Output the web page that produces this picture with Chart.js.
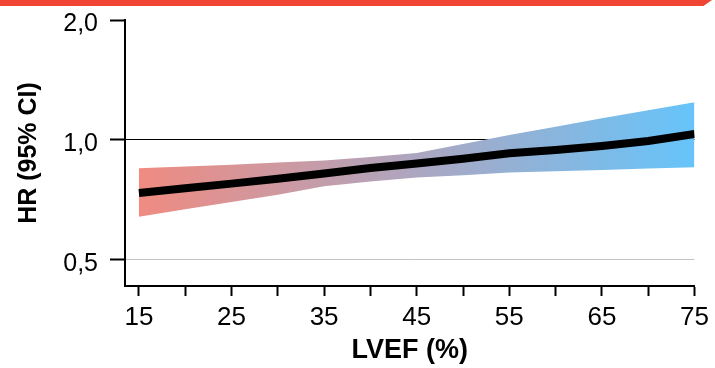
<!DOCTYPE html>
<html>
<head>
<meta charset="utf-8">
<script src="https://cdn.jsdelivr.net/npm/chart.js@4"></script>
<style>
  html, body { margin: 0; padding: 0; background: #fff; }
  #wrap { position: relative; width: 715px; height: 368px; }
  #banner { position: absolute; left: 0; top: 0; width: 712px; height: 6px; background: #f04434;
            clip-path: polygon(0 0, 100% 0, 98.8% 100%, 0 100%); }
</style>
</head>
<body>
<div id="wrap">
  <canvas id="hrChart" width="715" height="368"></canvas>
  <div id="banner"></div>
</div>
<script>
// LVEF (%) positions
let lvef = [15, 20, 25, 30, 35, 40, 45, 50, 55, 60, 65, 70, 75]
// hazard ratio and 95% CI
let hr      = [0.736, 0.756, 0.777, 0.799, 0.824, 0.850, 0.873, 0.897, 0.926, 0.944, 0.966, 0.994, 1.035]
let ciUpper = [0.849, 0.858, 0.866, 0.878, 0.888, 0.906, 0.928, 0.977, 1.029, 1.080, 1.133, 1.187, 1.243]
let ciLower = [0.642, 0.670, 0.699, 0.729, 0.765, 0.787, 0.805, 0.815, 0.828, 0.835, 0.841, 0.848, 0.854]

let xTicks = [15, 20, 25, 30, 35, 40, 45, 50, 55, 60, 65, 70, 75]
let xLabelled = [15, 25, 35, 45, 55, 65, 75]
let yTicks = [0.5, 1.0, 2.0]
let yLabels = ["0,5", "1,0", "2,0"]

function toPoints(values){
  return lvef.map(function(x, i){
    return { x: x, y: values[i] }
  })
}

function bandFill(context){
  let chart = context.chart
  let area = chart.chartArea
  if (!area) return "rgba(0,0,0,0)"
  let grad = chart.ctx.createLinearGradient(chart.scales.x.getPixelForValue(15), 0, chart.scales.x.getPixelForValue(75), 0)
  grad.addColorStop(0, "rgb(240,139,129)")
  grad.addColorStop(0.5, "rgb(172,166,192)")
  grad.addColorStop(1, "rgb(102,196,250)")
  return grad
}

let fontFamily = "'Liberation Sans', Arial, sans-serif"

new Chart(document.querySelector("#hrChart"), {
  type: "line",
  data: {
    datasets: [
      {
        data: toPoints(hr),
        borderColor: "#000",
        borderWidth: 8,
        pointRadius: 0,
        fill: false,
        order: 0
      },
      {
        data: toPoints(ciUpper),
        borderWidth: 0,
        borderColor: "rgba(0,0,0,0)",
        backgroundColor: bandFill,
        pointRadius: 0,
        fill: "+1",
        order: 1
      },
      {
        data: toPoints(ciLower),
        borderWidth: 0,
        borderColor: "rgba(0,0,0,0)",
        pointRadius: 0,
        fill: false,
        order: 2
      }
    ]
  },
  options: {
    responsive: false,
    animation: false,
    layout: { padding: { top: 20, right: 17, bottom: 0, left: 0 } },
    plugins: { legend: { display: false }, tooltip: { enabled: false } },
    scales: {
      x: {
        type: "linear",
        min: 13.5,
        max: 75,
        afterBuildTicks: function(scale){
          scale.ticks = xTicks.map(function(v){ return { value: v } })
        },
        afterFit: function(scale){ scale.height = 82 },
        border: { display: true, color: "#000", width: 2 },
        grid: { drawOnChartArea: false, tickLength: 10, tickColor: "#000", tickWidth: 2 },
        ticks: {
          color: "#000",
          padding: 6,
          maxRotation: 0,
          autoSkip: false,
          font: { family: fontFamily, size: 26 },
          callback: function(v){ return xLabelled.indexOf(v) >= 0 ? String(v) : "" }
        },
        title: {
          display: true,
          text: "LVEF (%)",
          color: "#000",
          padding: { top: 0, bottom: 1 },
          font: { family: fontFamily, size: 27, weight: "bold" }
        }
      },
      y: {
        type: "logarithmic",
        min: 0.43,
        max: 2.0,
        afterBuildTicks: function(scale){
          scale.ticks = yTicks.map(function(v){ return { value: v } })
        },
        afterFit: function(scale){
          scale.width = 125
          scale.paddingTop = 10
          scale.paddingBottom = 0
        },
        border: { display: true, color: "#000", width: 2 },
        grid: {
          color: function(ctx){
            let v = ctx.tick ? ctx.tick.value : null
            if (v === 1.0) return "#000"
            if (v === 0.5) return "#c4c4c4"
            return "rgba(0,0,0,0)"
          },
          lineWidth: 1,
          tickLength: 15,
          tickColor: "#000",
          tickWidth: 2
        },
        ticks: {
          color: "#000",
          padding: 12,
          labelOffset: 4,
          autoSkip: false,
          font: { family: fontFamily, size: 25 },
          callback: function(v){
            let i = yTicks.indexOf(v)
            return i >= 0 ? yLabels[i] : ""
          }
        },
        title: {
          display: true,
          text: "HR (95% CI)",
          color: "#000",
          padding: { top: 14, bottom: 0 },
          font: { family: fontFamily, size: 25, weight: "bold" }
        }
      }
    }
  }
})
</script>
</body>
</html>
